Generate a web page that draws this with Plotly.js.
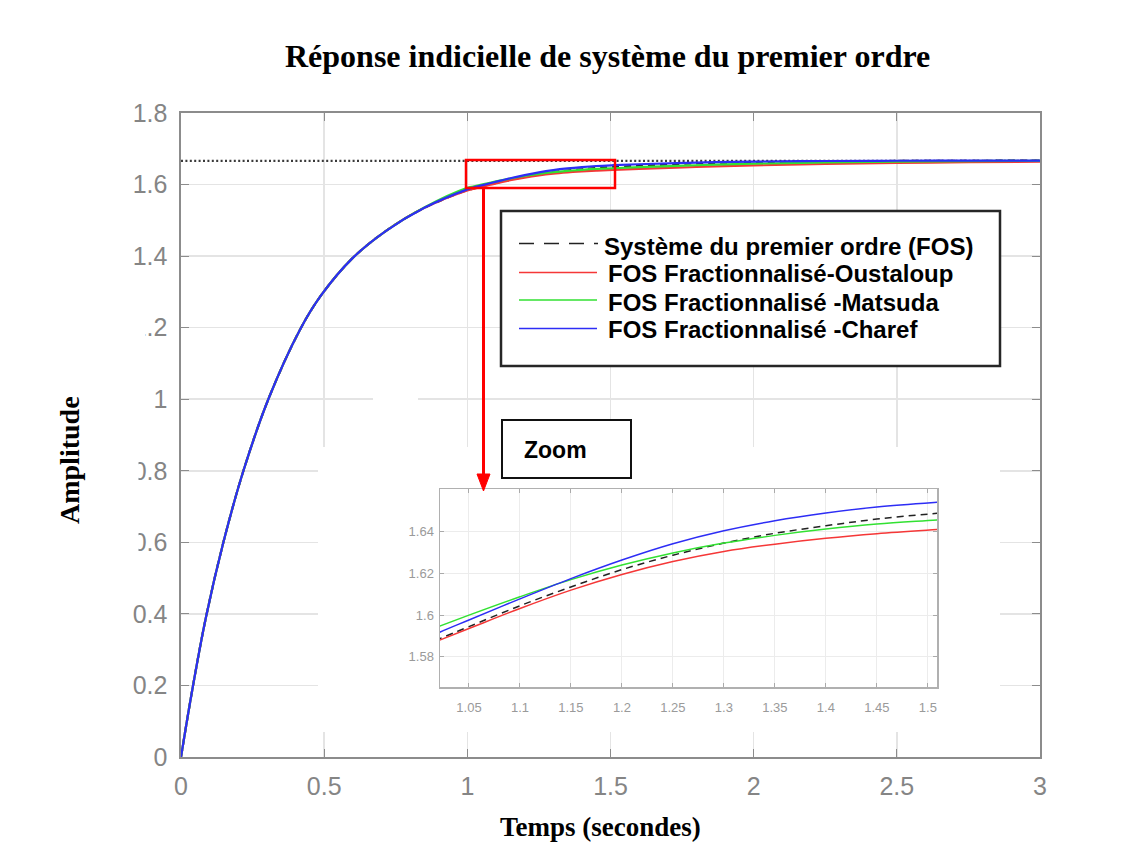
<!DOCTYPE html>
<html>
<head>
<meta charset="utf-8">
<script src="https://cdn.plot.ly/plotly-3.0.1.min.js"></script>
<style>
html,body{margin:0;padding:0;background:#fff;}
#chart{width:1131px;height:844px;}
</style>
</head>
<body>
<div id="chart"></div>
<script>
// ---- data ----
var timeS = [0, 0.041, 0.087, 0.148, 0.218, 0.305, 0.416, 0.489, 0.6, 0.715, 0.85,
             1.0, 1.02, 1.05, 1.1, 1.15, 1.2, 1.25, 1.3, 1.35, 1.4, 1.45, 1.51,
             1.6, 1.8, 2.0, 2.25, 2.5, 2.75, 3.0];
var fosRef = [0, 0.195, 0.39, 0.6, 0.8, 1.0, 1.195, 1.29, 1.395, 1.47, 1.535,
              1.5845, 1.5885, 1.5945, 1.6045, 1.6135, 1.6218, 1.6287, 1.6345, 1.6392, 1.6428, 1.646, 1.6488,
              1.6525, 1.6594, 1.6625, 1.6649, 1.666, 1.6665, 1.6667];
var fosOustaloup = [0, 0.195, 0.39, 0.6, 0.8, 1.0, 1.195, 1.29, 1.395, 1.47, 1.535,
              1.5838, 1.5878, 1.5936, 1.6032, 1.612, 1.6195, 1.6257, 1.6305, 1.634, 1.6368, 1.639, 1.641,
              1.6437, 1.649, 1.6535, 1.6575, 1.6605, 1.6625, 1.664];
var fosMatsuda = [0, 0.195, 0.39, 0.6, 0.8, 1.0, 1.195, 1.29, 1.395, 1.47, 1.536,
              1.5907, 1.5945, 1.6, 1.6088, 1.617, 1.624, 1.6298, 1.6345, 1.6382, 1.6412, 1.6436, 1.6456,
              1.6486, 1.654, 1.6585, 1.6618, 1.664, 1.6653, 1.6662];
var fosCharef = [0, 0.195, 0.39, 0.6, 0.8, 1.0, 1.195, 1.29, 1.395, 1.47, 1.535,
              1.5865, 1.5915, 1.5977, 1.6078, 1.6175, 1.6264, 1.6342, 1.6404, 1.6452, 1.6489, 1.6518, 1.6541,
              1.6568, 1.6615, 1.6642, 1.6658, 1.6665, 1.6668, 1.667];
var steadyX = [0, 3];
var steadyY = [1.666, 1.666];

var seriesNames = ["Système du premier ordre (FOS)", "FOS Fractionnalisé-Oustaloup",
                   "FOS Fractionnalisé -Matsuda", "FOS Fractionnalisé -Charef"];
var mainXTicks = [0, 0.5, 1, 1.5, 2, 2.5, 3];
var mainYTicks = [0, 0.2, 0.4, 0.6, 0.8, 1, 1.2, 1.4, 1.6, 1.8];
var insetXTicks = [1.05, 1.1, 1.15, 1.2, 1.25, 1.3, 1.35, 1.4, 1.45, 1.5];
var insetXLabels = ["1.05", "1.1", "1.15", "1.2", "1.25", "1.3", "1.35", "1.4", "1.45", "1.5"];
var insetYTicks = [1.58, 1.6, 1.62, 1.64];
var insetYLabels = ["1.58", "1.6", "1.62", "1.64"];
var titleText = "Réponse indicielle de système du premier ordre";
var xTitleText = "Temps (secondes)";
var yTitleText = "Amplitude";

// ---- geometry helpers (pixels -> paper) ----
var W = 1131, H = 844;
function px(x){ return x / W; }
function py(y){ return 1 - y / H; }

var colors = ["#222222", "rgb(245,55,55)", "rgb(50,225,50)", "rgb(45,45,245)"];
var dashes = ["7px,5px", "solid", "solid", "solid"];
var allY = [fosRef, fosOustaloup, fosMatsuda, fosCharef];

var traces = [];
traces.push({x: steadyX, y: steadyY, mode: "lines", xaxis: "x", yaxis: "y",
  line: {color: "#3a3a3a", width: 2.2, dash: "2px,2.4px"}, hoverinfo: "skip", showlegend: false});
for (var i = 0; i < 4; i++) {
  traces.push({x: timeS, y: allY[i], mode: "lines", name: seriesNames[i], xaxis: "x", yaxis: "y",
    line: {color: colors[i], width: 2.2, dash: dashes[i], shape: "spline", smoothing: 1}, showlegend: false});
}
// mask subplot (white area behind the inset)
traces.push({x: [], y: [], xaxis: "x2", yaxis: "y2", mode: "lines", showlegend: false, hoverinfo: "skip"});
for (var j = 0; j < 4; j++) {
  traces.push({x: timeS, y: allY[j], mode: "lines", name: seriesNames[j], xaxis: "x3", yaxis: "y3",
    line: {color: colors[j], width: 1.5, dash: dashes[j], shape: "spline", smoothing: 1}, showlegend: false});
}

var mainTickFont = {family: "Arial, Liberation Sans, sans-serif", size: 25, color: "#858585"};
var insetTickFont = {family: "Arial, Liberation Sans, sans-serif", size: 13, color: "#9a9a9a"};

var layout = {
  width: W, height: H,
  margin: {l: 0, r: 0, t: 0, b: 0, pad: 0},
  paper_bgcolor: "#ffffff", plot_bgcolor: "#ffffff",
  showlegend: false,
  xaxis: {domain: [px(181), px(1040)], range: [0, 3], anchor: "y",
    tickvals: mainXTicks, ticks: "inside", ticklen: 8, tickcolor: "#8c8c8c", tickwidth: 1.2,
    showline: true, linecolor: "#8c8c8c", linewidth: 1.6, mirror: "ticks",
    showgrid: true, gridcolor: "#e4e4e4", gridwidth: 1.5, zeroline: false,
    tickfont: mainTickFont, ticklabelstandoff: 6, fixedrange: true},
  yaxis: {domain: [py(757), py(113)], range: [0, 1.8], anchor: "x",
    tickvals: mainYTicks, ticks: "inside", ticklen: 8, tickcolor: "#8c8c8c", tickwidth: 1.2,
    showline: true, linecolor: "#8c8c8c", linewidth: 1.6, mirror: "ticks",
    showgrid: true, gridcolor: "#e4e4e4", gridwidth: 1.5, zeroline: false,
    tickfont: mainTickFont, ticklabelstandoff: 7, fixedrange: true},
  xaxis2: {domain: [px(318), px(1000)], range: [0, 1], anchor: "y2", visible: false, showgrid: false, fixedrange: true},
  yaxis2: {domain: [py(732), py(447)], range: [0, 1], anchor: "x2", visible: false, showgrid: false, fixedrange: true},
  xaxis3: {domain: [px(440), px(937)], range: [1.0216, 1.509], anchor: "y3",
    tickvals: insetXTicks, ticktext: insetXLabels, ticks: "inside", ticklen: 4, tickcolor: "#aaaaaa",
    showline: true, linecolor: "#b0b0b0", linewidth: 1.5, mirror: "ticks",
    showgrid: true, gridcolor: "#ececec", gridwidth: 1, zeroline: false,
    tickfont: insetTickFont, ticklabelstandoff: 8, fixedrange: true},
  yaxis3: {domain: [py(687), py(489)], range: [1.5656, 1.6604], anchor: "x3",
    tickvals: insetYTicks, ticktext: insetYLabels, ticks: "inside", ticklen: 4, tickcolor: "#aaaaaa",
    showline: true, linecolor: "#b0b0b0", linewidth: 1.5, mirror: "ticks",
    showgrid: true, gridcolor: "#ececec", gridwidth: 1, zeroline: false,
    tickfont: insetTickFont, ticklabelstandoff: 2, fixedrange: true},
  shapes: [
    // partial masks over tick labels (as in the reference picture)
    {type: "rect", xref: "paper", yref: "paper", x0: px(95), x1: px(145.5), y0: py(343), y1: py(315),
      fillcolor: "#ffffff", line: {width: 0}, layer: "above"},
    {type: "rect", xref: "paper", yref: "paper", x0: px(95), x1: px(138.5), y0: py(485), y1: py(457),
      fillcolor: "#ffffff", line: {width: 0}, layer: "above"},
    {type: "rect", xref: "paper", yref: "paper", x0: px(95), x1: px(138.5), y0: py(557), y1: py(529),
      fillcolor: "#ffffff", line: {width: 0}, layer: "above"},
    {type: "rect", xref: "paper", yref: "paper", x0: px(373), x1: px(418), y0: py(404), y1: py(396),
      fillcolor: "#ffffff", line: {width: 0}, layer: "above"},
    // legend box
    {type: "rect", xref: "paper", yref: "paper", x0: px(501), x1: px(1000), y0: py(366), y1: py(211),
      fillcolor: "#ffffff", line: {color: "#262626", width: 2.5}, layer: "above"},
    {type: "line", xref: "paper", yref: "paper", x0: px(519), x1: px(598), y0: py(243.5), y1: py(243.5),
      line: {color: "#222222", width: 1.5, dash: "15px,10px"}, layer: "above"},
    {type: "line", xref: "paper", yref: "paper", x0: px(519), x1: px(597), y0: py(272.5), y1: py(272.5),
      line: {color: colors[1], width: 1.5}, layer: "above"},
    {type: "line", xref: "paper", yref: "paper", x0: px(519), x1: px(597), y0: py(300), y1: py(300),
      line: {color: colors[2], width: 1.5}, layer: "above"},
    {type: "line", xref: "paper", yref: "paper", x0: px(519), x1: px(597), y0: py(328.5), y1: py(328.5),
      line: {color: colors[3], width: 1.5}, layer: "above"},
    // zoom label box
    {type: "rect", xref: "paper", yref: "paper", x0: px(502), x1: px(631), y0: py(478), y1: py(420),
      fillcolor: "#ffffff", line: {color: "#111111", width: 2}, layer: "above"},
    // red zoom rectangle on main plot
    {type: "rect", xref: "paper", yref: "paper", x0: px(466), x1: px(615), y0: py(188), y1: py(160),
      fillcolor: "rgba(0,0,0,0)", line: {color: "#ff0000", width: 2.5}, layer: "above"},
    // red arrow
    {type: "line", xref: "paper", yref: "paper", x0: px(483.5), x1: px(483.5), y0: py(188), y1: py(476),
      line: {color: "#ff0000", width: 3}, layer: "above"},
    {type: "path", xref: "paper", yref: "paper",
      path: "M " + px(477) + "," + py(474) + " L " + px(490) + "," + py(474) + " L " + px(483.5) + "," + py(491) + " Z",
      fillcolor: "#ff0000", line: {color: "#ff0000", width: 1}, layer: "above"}
  ],
  annotations: [
    {text: "<b>" + titleText + "</b>", xref: "paper", yref: "paper", x: px(607), y: py(56),
      xanchor: "center", yanchor: "middle", showarrow: false,
      font: {family: "Times New Roman, Liberation Serif, serif", size: 32, color: "#000"}},
    {text: "<b>" + xTitleText + "</b>", xref: "paper", yref: "paper", x: px(600), y: py(827),
      xanchor: "center", yanchor: "middle", showarrow: false,
      font: {family: "Times New Roman, Liberation Serif, serif", size: 27, color: "#000"}},
    {text: "<b>" + yTitleText + "</b>", xref: "paper", yref: "paper", x: px(70), y: py(460),
      xanchor: "center", yanchor: "middle", showarrow: false, textangle: -90,
      font: {family: "Times New Roman, Liberation Serif, serif", size: 28, color: "#000"}},
    {text: "<b>" + seriesNames[0] + "</b>", xref: "paper", yref: "paper", x: px(602), y: py(246),
      xanchor: "left", yanchor: "middle", showarrow: false,
      font: {family: "Arial, Liberation Sans, sans-serif", size: 24, color: "#000"}},
    {text: "<b>" + seriesNames[1] + "</b>", xref: "paper", yref: "paper", x: px(606), y: py(273),
      xanchor: "left", yanchor: "middle", showarrow: false,
      font: {family: "Arial, Liberation Sans, sans-serif", size: 24, color: "#000"}},
    {text: "<b>" + seriesNames[2] + "</b>", xref: "paper", yref: "paper", x: px(606), y: py(302),
      xanchor: "left", yanchor: "middle", showarrow: false,
      font: {family: "Arial, Liberation Sans, sans-serif", size: 24, color: "#000"}},
    {text: "<b>" + seriesNames[3] + "</b>", xref: "paper", yref: "paper", x: px(606), y: py(329),
      xanchor: "left", yanchor: "middle", showarrow: false,
      font: {family: "Arial, Liberation Sans, sans-serif", size: 24, color: "#000"}},
    {text: "<b>Zoom</b>", xref: "paper", yref: "paper", x: px(522), y: py(450),
      xanchor: "left", yanchor: "middle", showarrow: false,
      font: {family: "Arial, Liberation Sans, sans-serif", size: 23, color: "#000"}}
  ]
};

Plotly.newPlot("chart", traces, layout, {staticPlot: true, displayModeBar: false});
</script>
</body>
</html>
